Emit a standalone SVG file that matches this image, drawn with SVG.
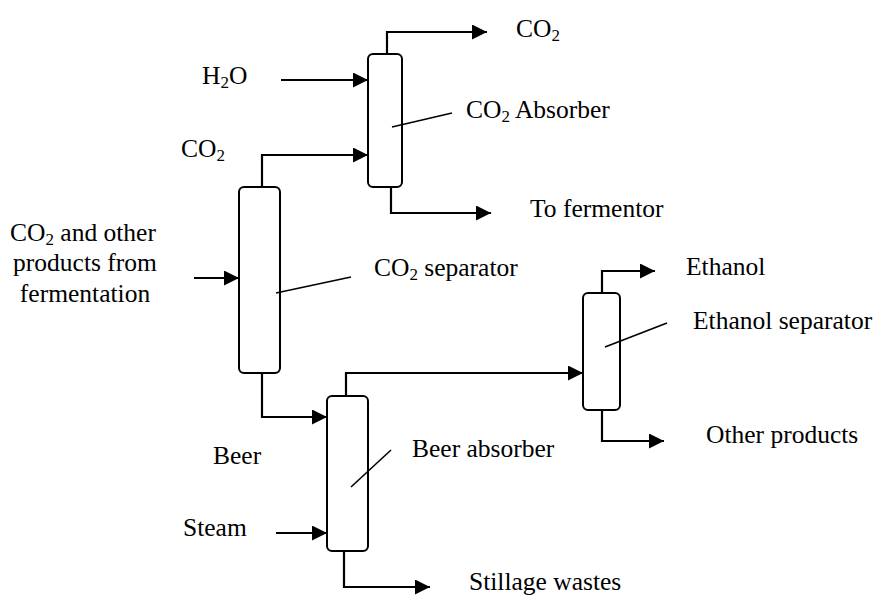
<svg xmlns="http://www.w3.org/2000/svg" width="881" height="596" viewBox="0 0 881 596">
<style>
  .col{fill:#fff;stroke:#000;stroke-width:2}
  .ld{stroke:#000;stroke-width:1.6;fill:none}
  .ln{stroke:#000;stroke-width:2.2;fill:none;marker-end:url(#ah)}
  text{font-family:"Liberation Serif","Times New Roman","DejaVu Serif",serif;font-size:25.5px;fill:#000}
  .sub{font-size:17px}
</style>
<defs>
  <marker id="ah" markerUnits="userSpaceOnUse" markerWidth="16" markerHeight="16" viewBox="0 0 16 16" refX="15" refY="7.5" orient="auto">
    <path d="M0,0 L15,7.5 L0,15 Z" fill="#000"/>
  </marker>
</defs>
<rect width="881" height="596" fill="#fff"/>
<g id="connectors">
  <path class="ln" d="M387,54 V32 H487"/>
  <path class="ln" d="M281,80 H368"/>
  <path class="ln" d="M262,187 V155 H368"/>
  <path class="ln" d="M391,187 V213 H491"/>
  <path class="ln" d="M194,278 H239"/>
  <path class="ln" d="M262,373 V417 H327"/>
  <path class="ln" d="M346,396 V373 H583"/>
  <path class="ln" d="M276,533 H327"/>
  <path class="ln" d="M344,551 V587 H430"/>
  <path class="ln" d="M602,293 V271 H655"/>
  <path class="ln" d="M602,410 V441 H664"/>
</g>
<g id="co2-absorber">
  <rect class="col" x="368" y="54" width="34" height="133" rx="5"/>
  <line class="ld" x1="392" y1="127" x2="452" y2="113"/>
  <text x="466" y="118" font-family="Liberation Serif, serif">CO<tspan class="sub" dy="4">2</tspan><tspan dy="-4"> Absorber</tspan></text>
</g>
<g id="co2-separator">
  <rect class="col" x="239" y="187" width="41" height="186" rx="5"/>
  <line class="ld" x1="276" y1="293" x2="351" y2="277"/>
  <text x="374" y="276">CO<tspan class="sub" dy="4">2</tspan><tspan dy="-4"> separator</tspan></text>
</g>
<g id="beer-absorber">
  <rect class="col" x="327" y="396" width="41" height="155" rx="5"/>
  <line class="ld" x1="351" y1="487" x2="391" y2="450"/>
  <text x="412" y="457">Beer absorber</text>
</g>
<g id="ethanol-separator">
  <rect class="col" x="583" y="293" width="37" height="117" rx="5"/>
  <line class="ld" x1="605" y1="347" x2="667" y2="323"/>
  <text x="693" y="329">Ethanol separator</text>
</g>
<g id="stream-labels">
  <text x="516" y="37">CO<tspan class="sub" dy="4">2</tspan></text>
  <text x="202" y="84">H<tspan class="sub" dy="4">2</tspan><tspan dy="-4">O</tspan></text>
  <text x="181" y="157">CO<tspan class="sub" dy="4">2</tspan></text>
  <text x="530" y="217">To fermentor</text>
  <text x="10" y="241">CO<tspan class="sub" dy="4">2</tspan><tspan dy="-4"> and other</tspan></text>
  <text x="85" y="271" text-anchor="middle">products from</text>
  <text x="85" y="302" text-anchor="middle">fermentation</text>
  <text x="686" y="275">Ethanol</text>
  <text x="706" y="443">Other products</text>
  <text x="213" y="464">Beer</text>
  <text x="183" y="536">Steam</text>
  <text x="469" y="590">Stillage wastes</text>
</g>
</svg>
